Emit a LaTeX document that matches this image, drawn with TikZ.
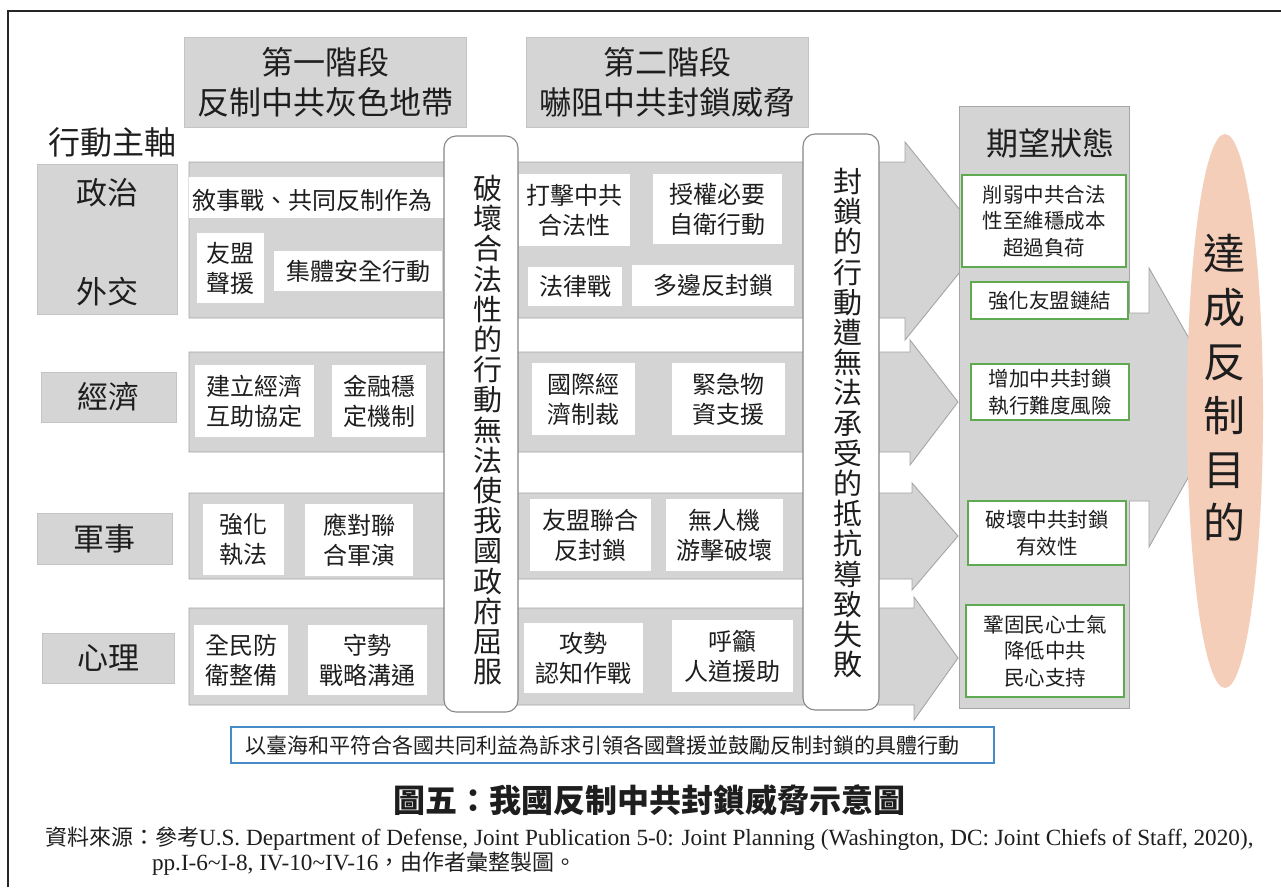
\documentclass[tikz,border=0pt]{standalone}
\usepackage{fontspec}
\setmainfont{Noto Sans CJK TC}
\newfontfamily\lat{Liberation Serif}
\usetikzlibrary{shapes.geometric}
\definecolor{bandgray}{RGB}{212,212,212}
\definecolor{bandline}{RGB}{165,165,165}
\definecolor{hdrgray}{RGB}{213,213,213}
\definecolor{rline}{RGB}{135,135,135}
\definecolor{gline}{RGB}{95,170,80}
\definecolor{bline}{RGB}{70,140,200}
\definecolor{salmon}{RGB}{245,206,186}
\definecolor{ink}{RGB}{30,30,30}
\begin{document}
\begin{tikzpicture}[x=1pt,y=-1pt,
  every node/.style={text=ink, inner sep=0pt, outer sep=0pt},
  hdrbox/.style={fill=hdrgray, draw=hdrgray!92!black, line width=0.6pt},
  band/.style={fill=bandgray, draw=bandline, line width=0.9pt, line join=miter},
  wbox/.style={fill=white, align=center, font=\fontsize{24}{30}\selectfont},
  rbox/.style={fill=white, draw=rline, line width=1.1pt, rounded corners=12pt},
  vtext/.style={align=center, font=\fontsize{29}{30.2}\selectfont},
  gbox/.style={fill=white, draw=gline, line width=1.1pt, align=center, font=\fontsize{20.5}{26.5}\selectfont},
  hdrtext/.style={align=center, font=\fontsize{32}{40}\selectfont},
  axistext/.style={font=\fontsize{31}{36}\selectfont},
  srctext/.style={anchor=base west, font=\fontsize{22}{26}\selectfont},
]
\useasboundingbox (0,0) rectangle (1281,887);
\fill[white] (0,0) rectangle (1281,887);
% frame
\draw[line width=2pt, black!85] (8,887) -- (8,11) -- (1281,11);

% phase headers
\node[hdrbox, hdrtext, minimum width=282, minimum height=90] (ph1) at (325,82) {第一階段\\反制中共灰色地帶};
\node[hdrbox, hdrtext, minimum width=282, minimum height=90] (ph2) at (667,82) {第二階段\\嚇阻中共封鎖威脅};
\node[font=\fontsize{32}{36}\selectfont] (axis) at (112,142) {行動主軸};

% axis labels
\node[hdrbox, minimum width=140, minimum height=150] (polbox) at (107,239) {};
\node[axistext] (pol) at (107,193) {政治};
\node[axistext] (dip) at (107,292) {外交};
\node[hdrbox, axistext, minimum width=135, minimum height=50] (eco) at (108.5,397) {經濟};
\node[hdrbox, axistext, minimum width=135, minimum height=51] (mil) at (104.5,538.5) {軍事};
\node[hdrbox, axistext, minimum width=132, minimum height=50] (psy) at (108,658) {心理};

% band arrows
\path[band] (189,162) -- (905,162) -- (905,142) -- (985,241) -- (905,340) -- (905,318) -- (189,318) -- cycle;
\path[band] (189,352) -- (910,352) -- (910,340) -- (958,402) -- (910,465) -- (910,452) -- (189,452) -- cycle;
\path[band] (189,493) -- (912,493) -- (912,483) -- (958,536) -- (912,590) -- (912,579) -- (189,579) -- cycle;
\path[band] (189,608) -- (914,608) -- (914,597) -- (958,658) -- (914,720) -- (914,705) -- (189,705) -- cycle;

% row 1 contents
\node[fill=white, minimum width=256, minimum height=41] (narr) at (316.5,197.5) {};
\node[font=\fontsize{24}{30}\selectfont] (narrtxt) at (312,200) {敘事戰、共同反制作為};
\node[wbox, minimum width=67, minimum height=70] (ally) at (230.5,268) {友盟\\聲援};
\node[wbox, minimum width=168, minimum height=40] (coll) at (358,271) {集體安全行動};
\node[wbox, minimum width=111, minimum height=72] (hit) at (574.5,210) {打擊中共\\合法性};
\node[wbox, minimum width=129, minimum height=70] (auth) at (717.5,209) {授權必要\\自衛行動};
\node[wbox, minimum width=94, minimum height=39] (law) at (575,286.5) {法律戰};
\node[wbox, minimum width=162, minimum height=41] (multi) at (713,285.5) {多邊反封鎖};

% row 2 contents
\node[wbox, minimum width=119, minimum height=72] (ecoa) at (254.5,401) {建立經濟\\互助協定};
\node[wbox, minimum width=94, minimum height=72] (ecob) at (379,401) {金融穩\\定機制};
\node[wbox, minimum width=103, minimum height=72] (ecoc) at (583.5,399) {國際經\\濟制裁};
\node[wbox, minimum width=113, minimum height=72] (ecod) at (728.5,399) {緊急物\\資支援};

% row 3 contents
\node[wbox, minimum width=81, minimum height=71] (mila) at (243.5,539.5) {強化\\執法};
\node[wbox, minimum width=108, minimum height=72] (milb) at (359,540) {應對聯\\合軍演};
\node[wbox, minimum width=121, minimum height=72] (milc) at (590.5,535) {友盟聯合\\反封鎖};
\node[wbox, minimum width=117, minimum height=72] (mild) at (724.5,535) {無人機\\游擊破壞};

% row 4 contents
\node[wbox, minimum width=94, minimum height=70] (psya) at (241,660) {全民防\\衛整備};
\node[wbox, minimum width=119, minimum height=70] (psyb) at (367.5,660) {守勢\\戰略溝通};
\node[wbox, minimum width=119, minimum height=70] (psyc) at (583.5,658) {攻勢\\認知作戰};
\node[wbox, minimum width=121, minimum height=72] (psyd) at (732.5,656) {呼籲\\人道援助};

% rounded vertical boxes
\node[rbox, minimum width=74, minimum height=576] (ra) at (481,424) {};
\node[vtext] (ratxt) at (488,430) {破\\壞\\合\\法\\性\\的\\行\\動\\無\\法\\使\\我\\國\\政\\府\\屈\\服};
\node[rbox, minimum width=76, minimum height=576] (rb) at (841,422) {};
\node[vtext] (rbtxt) at (848,423) {封\\鎖\\的\\行\\動\\遭\\無\\法\\承\\受\\的\\抵\\抗\\導\\致\\失\\敗};

% desired state column
\node[fill=bandgray, draw=bandline, line width=0.9pt, minimum width=170, minimum height=602] (col) at (1044,407) {};
\node[font=\fontsize{32}{36}\selectfont] (coltxt) at (1050,143) {期望狀態};

% big arrow to goal
\fill[bandgray] (1127,313) -- (1149,313) -- (1149,268) -- (1228,407) -- (1149,547) -- (1149,501) -- (1127,501) -- cycle;
\draw[bandline, line width=0.9pt, line join=miter] (1129,313) -- (1149,313) -- (1149,268) -- (1228,407) -- (1149,547) -- (1149,501) -- (1129,501);

% green boxes
\node[gbox, minimum width=164, minimum height=92] (ga) at (1044,221) {削弱中共合法\\性至維穩成本\\超過負荷};
\node[gbox, minimum width=157, minimum height=37] (gb) at (1049.5,300.5) {強化友盟鏈結};
\node[gbox, minimum width=158, minimum height=56] (gc) at (1050,392) {增加中共封鎖\\執行難度風險};
\node[gbox, minimum width=158, minimum height=64] (gd) at (1047,533) {破壞中共封鎖\\有效性};
\node[gbox, minimum width=158, minimum height=92] (ge) at (1045,651) {鞏固民心士氣\\降低中共\\民心支持};

% goal ellipse
\node[ellipse, fill=salmon, minimum width=76, minimum height=554] (goal) at (1225,411) {};
\node[align=center, font=\fontsize{42}{53.8}\selectfont] (goaltxt) at (1224,388) {達\\成\\反\\制\\目\\的};

% bottom statement
\node[draw=bline, fill=white, line width=1.1pt, minimum width=763, minimum height=36] (bot) at (612.5,745) {};
\node[font=\fontsize{21}{26}\selectfont] (bottxt) at (602,745) {以臺海和平符合各國共同利益為訴求引領各國聲援並鼓勵反制封鎖的具體行動};

% caption and source
\node[font=\fontsize{32}{38}\selectfont\bfseries] (cap) at (649,800) {圖五：我國反制中共封鎖威脅示意圖};
\node[srctext] (srca) at (45,845) {資料來源：參考{\lat\fontsize{23.2}{26}\selectfont U.S. Department of Defense, Joint Publication 5-0: Joint Planning (Washington, DC: Joint Chiefs of Staff, 2020),}};
\node[srctext] (srcb) at (152,870) {{\lat\fontsize{23.2}{26}\selectfont pp.I-6\textasciitilde I-8, IV-10\textasciitilde IV-16}，由作者彙整製圖。};
\end{tikzpicture}
\end{document}
